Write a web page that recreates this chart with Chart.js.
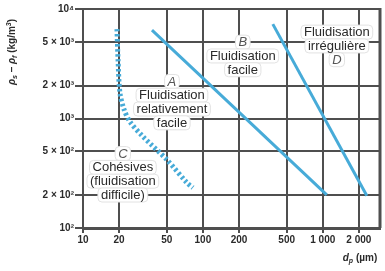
<!DOCTYPE html>
<html>
<head>
<meta charset="utf-8">
<script src="https://cdn.jsdelivr.net/npm/chart.js@4.4.0/dist/chart.umd.min.js"></script>
<style>
  html, body { margin: 0; padding: 0; background: #fff; }
  #wrap { width: 385px; height: 271px; }
</style>
</head>
<body>
<div id="wrap"><canvas id="myChart" width="385" height="271"></canvas></div>
<script>
'use strict';
// particle diameter (um) and density difference (kg/m3)
var diamB = [37.6, 1080];
var rhoB = [6420, 201];
var diamD = [383, 2330];
var rhoD = [7280, 197];
var diamC = [19.2, 19.6, 20.3, 22, 24.6, 31.6, 50, 73.6, 82.5];
var rhoC = [6560, 3480, 1730, 1210, 938, 684, 421, 259, 233];

var xTicks = [10, 20, 50, 100, 200, 500, 1000, 2000];
var xTickLabels = ['10', '20', '50', '100', '200', '500', '1 000', '2 000'];
var yTicks = [100, 200, 500, 1000, 2000, 5000, 10000];
var yTickLabels = ['10²', '2 × 10²', '5 × 10²', '10³', '2 × 10³', '5 × 10³', '10⁴'];

// zone labels: anchor (data coords) + lines
var zoneLabels = [
  { x: 55.2, y: 2180, lines: ['A', 'Fluidisation', 'relativement', 'facile'] },
  { x: 215, y: 4980, lines: ['B', 'Fluidisation', 'facile'] },
  { x: 1310, y: 6150, lines: ['Fluidisation', 'irrégulière', 'D'] },
  { x: 21.5, y: 478, lines: ['C', 'Cohésives', '(fluidisation', 'difficile)'] }
];

var blue = '#47abd8';
var gridColor = '#4f4f4f';
var textColor = '#2a2a2a';
var font = '"Liberation Sans", Arial, sans-serif';

function toPoints(xs, ys) {
  var pts = [];
  for (var i = 0; i < xs.length; i++) {
    pts.push({ x: xs[i], y: ys[i] });
  }
  return pts;
}

function drawRich(ctx, parts, x, y) {
  var total = 0;
  for (var i = 0; i < parts.length; i++) {
    ctx.font = parts[i].f;
    total += ctx.measureText(parts[i].t).width;
  }
  var cx = x - total / 2;
  ctx.textAlign = 'left';
  ctx.textBaseline = 'middle';
  for (var j = 0; j < parts.length; j++) {
    ctx.font = parts[j].f;
    ctx.fillText(parts[j].t, cx, y + (parts[j].dy || 0));
    cx += ctx.measureText(parts[j].t).width;
  }
}

var framePlugin = {
  id: 'frame',
  beforeDatasetsDraw: function (chart) {
    var ctx = chart.ctx;
    var a = chart.chartArea;
    ctx.save();
    ctx.strokeStyle = gridColor;
    ctx.lineWidth = 3;
    ctx.beginPath();
    ctx.moveTo(a.right, a.top - 1);
    ctx.lineTo(a.right, a.bottom);
    ctx.stroke();
    ctx.restore();
  },
  afterDraw: function (chart) {
    var ctx = chart.ctx;
    var xs = chart.scales.x;
    var ys = chart.scales.y;
    ctx.save();
    // zone labels with white boxes
    var lineH = 13.8;
    zoneLabels.forEach(function (z) {
      var px = xs.getPixelForValue(z.x);
      var py = ys.getPixelForValue(z.y);
      z.lines.forEach(function (t, k) {
        var single = t.length === 1;
        ctx.font = (single ? 'italic ' : '') + '13px ' + font;
        var w = ctx.measureText(t).width;
        var ly = py + k * lineH;
        ctx.fillStyle = '#fff';
        ctx.strokeStyle = '#e2e2e2';
        ctx.lineWidth = 1;
        ctx.beginPath();
        ctx.roundRect(px - w / 2 - 3, ly - 7, w + 6, 14, 4);
        ctx.fill();
        ctx.stroke();
      });
      z.lines.forEach(function (t, k) {
        var single = t.length === 1;
        ctx.font = (single ? 'italic ' : '') + '13px ' + font;
        ctx.fillStyle = single ? '#555' : textColor;
        ctx.textAlign = 'center';
        ctx.textBaseline = 'middle';
        ctx.fillText(t, px, py + k * lineH + 0.5);
      });
    });

    // axis titles
    ctx.fillStyle = textColor;
    var it = 'italic bold 10px ' + font;
    var sb = 'italic bold 7px ' + font;
    var rg = 'bold 10px ' + font;
    ctx.save();
    ctx.translate(12, 52);
    ctx.rotate(-Math.PI / 2);
    drawRich(ctx, [
      { t: 'ρ', f: it }, { t: 's', f: sb, dy: 3 },
      { t: ' – ', f: rg },
      { t: 'ρ', f: it }, { t: 'f', f: sb, dy: 3 },
      { t: ' (kg/m', f: rg }, { t: '3', f: sb, dy: -3 }, { t: ')', f: rg }
    ], 0, 0);
    ctx.restore();
    drawRich(ctx, [
      { t: 'd', f: it }, { t: 'p', f: sb, dy: 3 },
      { t: ' (µm)', f: rg }
    ], 360, 258);
    ctx.restore();
  }
};

var ctx = document.getElementById('myChart').getContext('2d');
var chart = new Chart(ctx, {
  type: 'scatter',
  data: {
    datasets: [{
      label: 'B',
      data: toPoints(diamB, rhoB),
      showLine: true,
      borderColor: blue,
      borderWidth: 3,
      pointRadius: 0
    }, {
      label: 'D',
      data: toPoints(diamD, rhoD),
      showLine: true,
      borderColor: blue,
      borderWidth: 3,
      pointRadius: 0
    }, {
      label: 'C',
      data: toPoints(diamC, rhoC),
      showLine: true,
      borderColor: blue,
      borderWidth: 5,
      borderDash: [2.5, 2.5],
      tension: 0.3,
      pointRadius: 0
    }]
  },
  options: {
    responsive: false,
    animation: false,
    layout: { padding: { top: 9, right: 5, left: 0, bottom: 0 }, autoPadding: false },
    plugins: { legend: { display: false }, tooltip: { enabled: false } },
    scales: {
      x: {
        type: 'logarithmic',
        min: 10,
        max: 3000,
        afterBuildTicks: function (scale) {
          scale.ticks = xTicks.map(function (v) { return { value: v }; });
        },
        afterFit: function (scale) { scale.height = 43; },
        grid: { color: gridColor, lineWidth: 2, tickLength: 5, drawTicks: true },
        border: { color: gridColor, width: 3 },
        ticks: {
          autoSkip: false,
          maxRotation: 0,
          padding: 1,
          color: textColor,
          font: { family: font, size: 10, weight: 'bold' },
          callback: function (value, index) { return xTickLabels[index]; }
        }
      },
      y: {
        type: 'logarithmic',
        min: 100,
        max: 10000,
        afterBuildTicks: function (scale) {
          scale.ticks = yTicks.map(function (v) { return { value: v }; });
        },
        afterFit: function (scale) { scale.width = 83; },
        grid: { color: gridColor, lineWidth: 2, tickLength: 8, drawTicks: true },
        border: { color: gridColor, width: 2 },
        ticks: {
          autoSkip: false,
          padding: 1,
          color: textColor,
          font: { family: font, size: 10, weight: 'bold' },
          callback: function (value, index) { return yTickLabels[index]; }
        }
      }
    }
  },
  plugins: [framePlugin]
});
</script>
</body>
</html>
